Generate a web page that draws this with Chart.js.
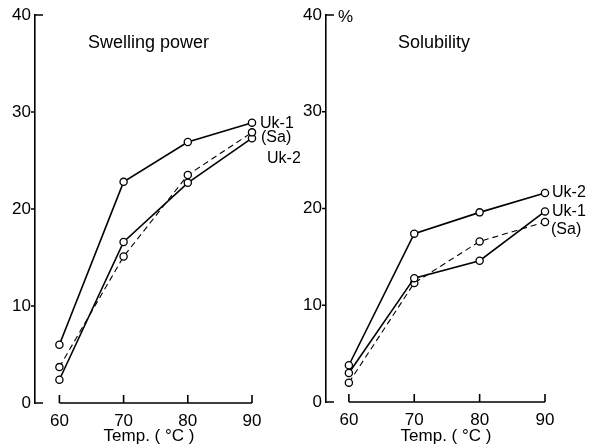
<!DOCTYPE html>
<html><head><meta charset="utf-8">
<script src="https://cdn.jsdelivr.net/npm/chart.js@4.4.1/dist/chart.umd.min.js"></script>
<style>
html,body{margin:0;padding:0;background:#fff;}
#wrap{position:relative;width:594px;height:445px;overflow:hidden;}
.box{position:absolute;top:0;height:445px;}
</style></head><body>
<div id="wrap">
<div class="box" style="left:297px;width:297px"><canvas id="c2" width="297" height="445"></canvas></div>
<div class="box" style="left:0;width:310px"><canvas id="c1" width="310" height="445"></canvas></div>
</div>
<script>
// ---- data ----
const temps = [60, 70, 80, 90];
const xTicks = [60, 70, 80, 90];
const yTicks = [0, 10, 20, 30, 40];
const swellUk1 = [6.0, 22.8, 26.9, 28.9];
const swellSa  = [3.7, 15.1, 23.5, 27.9];
const swellUk2 = [2.4, 16.6, 22.7, 27.3];
const solUk2 = [3.8, 17.4, 19.6, 21.6];
const solUk1 = [3.0, 12.8, 14.6, 19.7];
const solSa  = [2.0, 12.3, 16.6, 18.6];
const seriesNames = ['Uk-1', '(Sa)', 'Uk-2'];
const leftTitle = 'Swelling power';
const rightTitle = 'Solubility';
const xTitle = 'Temp. ( °C )';
const unitLabel = '%';

const FONT = "'Liberation Sans', Arial, sans-serif";

function ds(label, values, dashed) {
  return {
    label: label,
    data: temps.map((t, i) => ({x: t, y: values[i]})),
    borderColor: '#000',
    borderWidth: dashed ? 1.1 : 1.6,
    borderDash: dashed ? [6, 4] : [],
    pointRadius: 3.6,
    pointBorderWidth: 1.3,
    pointBackgroundColor: '#fff',
    pointBorderColor: '#000',
    tension: 0,
    clip: false
  };
}

function customPlugin(o) {
  return {
    id: 'custom',
    afterDraw(chart) {
      const ctx = chart.ctx, xs = chart.scales.x, ys = chart.scales.y, ca = chart.chartArea;
      ctx.save();
      ctx.strokeStyle = '#000';
      ctx.lineWidth = 1.6;
      const by = ys.getPixelForValue(yTicks[0]);
      ctx.beginPath();
      ctx.moveTo(xs.getPixelForValue(xTicks[0]), by);
      ctx.lineTo(xs.getPixelForValue(xTicks[xTicks.length - 1]), by);
      xTicks.forEach(v => { const px = xs.getPixelForValue(v); ctx.moveTo(px, by); ctx.lineTo(px, by - 8); });
      yTicks.forEach((v, i) => {
        const py = ys.getPixelForValue(v);
        if (i === 0 || i === yTicks.length - 1) { ctx.moveTo(ca.left, py); ctx.lineTo(ca.left + 8, py); }
        else { ctx.moveTo(ca.left - 4, py); ctx.lineTo(ca.left, py); }
      });
      ctx.stroke();
      ctx.fillStyle = '#000';
      ctx.textBaseline = 'middle';
      ctx.textAlign = 'left';
      ctx.font = '18px ' + FONT;
      ctx.fillText(o.title, o.titleX, o.titleY);
      ctx.font = '17px ' + FONT;
      if (o.unit) ctx.fillText(o.unit, ca.left + 12, ys.getPixelForValue(yTicks[yTicks.length - 1]) + 2);
      ctx.textAlign = 'center';
      ctx.fillText(xTitle, o.xTitleX, o.xTitleY);
      ctx.textAlign = 'left';
      ctx.font = '16px ' + FONT;
      chart.data.datasets.forEach((d, i) => {
        const meta = chart.getDatasetMeta(i);
        const p = meta.data[meta.data.length - 1];
        ctx.fillText(d.label, p.x + o.labelDx[i], p.y + o.labelDy[i]);
      });
      ctx.restore();
    }
  };
}

function makeChart(id, datasets, yWidth, xHeight, padRight, xMin, plug) {
  return new Chart(document.getElementById(id), {
    type: 'line',
    data: { datasets: datasets },
    options: {
      responsive: false,
      animation: false,
      layout: { padding: { top: 15, right: padRight, left: 0, bottom: 0 } },
      plugins: { legend: { display: false }, tooltip: { enabled: false } },
      scales: {
        x: {
          type: 'linear', min: xMin, max: 90,
          afterBuildTicks: s => { s.ticks = xTicks.map(v => ({value: v})); },
          afterFit: s => { s.height = xHeight; },
          grid: { display: false, drawTicks: false },
          border: { display: false },
          ticks: { color: '#000', font: { size: 17, family: FONT }, padding: 8, autoSkip: false, maxRotation: 0 }
        },
        y: {
          min: 0, max: 40,
          afterBuildTicks: s => { s.ticks = yTicks.map(v => ({value: v})); },
          afterFit: s => { s.width = yWidth; },
          grid: { display: false, drawTicks: false },
          border: { display: true, color: '#000', width: 1.6 },
          ticks: { color: '#000', font: { size: 17, family: FONT }, padding: 4 }
        }
      }
    },
    plugins: [plug]
  });
}

makeChart('c1', [
  ds(seriesNames[0], swellUk1, false),
  ds(seriesNames[1], swellSa, true),
  ds(seriesNames[2], swellUk2, false)
], 35, 42, 58, 56.2, customPlugin({
  title: leftTitle, titleX: 88, titleY: 43, xTitleX: 149, xTitleY: 436,
  labelDx: [8, 9, 15], labelDy: [1, 5, 20]
}));

makeChart('c2', [
  ds(seriesNames[2], solUk2, false),
  ds(seriesNames[0], solUk1, false),
  ds(seriesNames[1], solSa, true)
], 29, 43, 49, 56.5, customPlugin({
  title: rightTitle, titleX: 101, titleY: 43, xTitleX: 149, xTitleY: 436,
  labelDx: [7, 7, 6], labelDy: [0, 0, 8], unit: unitLabel
}));
</script>
</body></html>
